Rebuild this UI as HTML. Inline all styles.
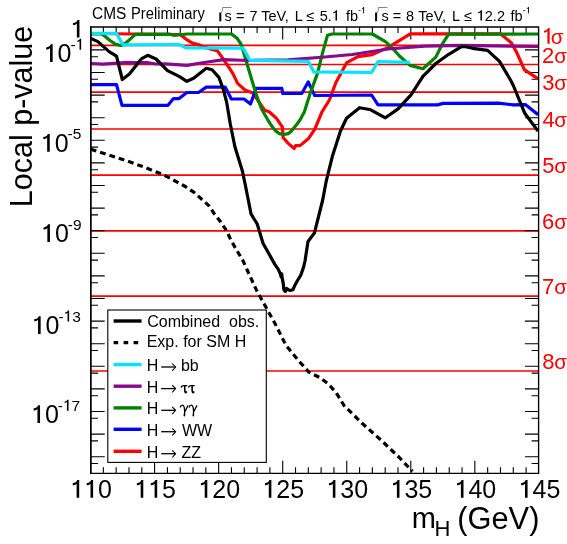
<!DOCTYPE html>
<html><head><meta charset="utf-8"><style>
html,body{margin:0;padding:0;background:#fff;width:567px;height:544px;overflow:hidden}
svg{display:block;font-family:"Liberation Sans",sans-serif;will-change:transform}
</style></head><body>
<svg width="567" height="544" viewBox="0 0 567 544">
<defs><clipPath id="pc"><rect x="91.0" y="27.0" width="447.6" height="446.3"/></clipPath></defs>
<rect width="567" height="544" fill="#fff"/>

<line x1="91.0" y1="45.37" x2="538.6" y2="45.37" stroke="#ff0000" stroke-width="1.6"/>
<line x1="91.0" y1="64.43" x2="538.6" y2="64.43" stroke="#ff0000" stroke-width="1.6"/>
<line x1="91.0" y1="92.16" x2="538.6" y2="92.16" stroke="#ff0000" stroke-width="1.6"/>
<line x1="91.0" y1="128.98" x2="538.6" y2="128.98" stroke="#ff0000" stroke-width="1.6"/>
<line x1="91.0" y1="175.16" x2="538.6" y2="175.16" stroke="#ff0000" stroke-width="1.6"/>
<line x1="91.0" y1="230.83" x2="538.6" y2="230.83" stroke="#ff0000" stroke-width="1.6"/>
<line x1="91.0" y1="296.08" x2="538.6" y2="296.08" stroke="#ff0000" stroke-width="1.6"/>
<line x1="91.0" y1="370.96" x2="538.6" y2="370.96" stroke="#ff0000" stroke-width="1.6"/>
<path d="M91.0,34.10h7 M538.6,34.10h-7 M91.0,49.90h13.7 M538.6,49.90h-13.7 M91.0,56.70h7 M538.6,56.70h-7 M91.0,72.50h13.7 M538.6,72.50h-13.7 M91.0,79.30h7 M538.6,79.30h-7 M91.0,95.10h13.7 M538.6,95.10h-13.7 M91.0,101.90h7 M538.6,101.90h-7 M91.0,117.70h13.7 M538.6,117.70h-13.7 M91.0,124.50h7 M538.6,124.50h-7 M91.0,140.30h13.7 M538.6,140.30h-13.7 M91.0,147.10h7 M538.6,147.10h-7 M91.0,162.90h13.7 M538.6,162.90h-13.7 M91.0,169.70h7 M538.6,169.70h-7 M91.0,185.50h13.7 M538.6,185.50h-13.7 M91.0,192.30h7 M538.6,192.30h-7 M91.0,208.10h13.7 M538.6,208.10h-13.7 M91.0,214.90h7 M538.6,214.90h-7 M91.0,230.70h13.7 M538.6,230.70h-13.7 M91.0,237.50h7 M538.6,237.50h-7 M91.0,253.30h13.7 M538.6,253.30h-13.7 M91.0,260.10h7 M538.6,260.10h-7 M91.0,275.90h13.7 M538.6,275.90h-13.7 M91.0,282.70h7 M538.6,282.70h-7 M91.0,298.50h13.7 M538.6,298.50h-13.7 M91.0,305.30h7 M538.6,305.30h-7 M91.0,321.10h13.7 M538.6,321.10h-13.7 M91.0,327.90h7 M538.6,327.90h-7 M91.0,343.70h13.7 M538.6,343.70h-13.7 M91.0,350.50h7 M538.6,350.50h-7 M91.0,366.30h13.7 M538.6,366.30h-13.7 M91.0,373.10h7 M538.6,373.10h-7 M91.0,388.90h13.7 M538.6,388.90h-13.7 M91.0,395.70h7 M538.6,395.70h-7 M91.0,411.50h13.7 M538.6,411.50h-13.7 M91.0,418.30h7 M538.6,418.30h-7 M91.0,434.10h13.7 M538.6,434.10h-13.7 M91.0,440.90h7 M538.6,440.90h-7 M91.0,456.70h13.7 M538.6,456.70h-13.7 M91.0,463.50h7 M538.6,463.50h-7 M103.36,473.3v-6 M103.36,27.0v6 M116.17,473.3v-6 M116.17,27.0v6 M128.98,473.3v-6 M128.98,27.0v6 M141.79,473.3v-6 M141.79,27.0v6 M154.60,473.3v-12.5 M154.60,27.0v12.5 M167.41,473.3v-6 M167.41,27.0v6 M180.22,473.3v-6 M180.22,27.0v6 M193.03,473.3v-6 M193.03,27.0v6 M205.84,473.3v-6 M205.84,27.0v6 M218.65,473.3v-12.5 M218.65,27.0v12.5 M231.46,473.3v-6 M231.46,27.0v6 M244.27,473.3v-6 M244.27,27.0v6 M257.08,473.3v-6 M257.08,27.0v6 M269.89,473.3v-6 M269.89,27.0v6 M282.70,473.3v-12.5 M282.70,27.0v12.5 M295.51,473.3v-6 M295.51,27.0v6 M308.32,473.3v-6 M308.32,27.0v6 M321.13,473.3v-6 M321.13,27.0v6 M333.94,473.3v-6 M333.94,27.0v6 M346.75,473.3v-12.5 M346.75,27.0v12.5 M359.56,473.3v-6 M359.56,27.0v6 M372.37,473.3v-6 M372.37,27.0v6 M385.18,473.3v-6 M385.18,27.0v6 M397.99,473.3v-6 M397.99,27.0v6 M410.80,473.3v-12.5 M410.80,27.0v12.5 M423.61,473.3v-6 M423.61,27.0v6 M436.42,473.3v-6 M436.42,27.0v6 M449.23,473.3v-6 M449.23,27.0v6 M462.04,473.3v-6 M462.04,27.0v6 M474.85,473.3v-12.5 M474.85,27.0v12.5 M487.66,473.3v-6 M487.66,27.0v6 M500.47,473.3v-6 M500.47,27.0v6 M513.28,473.3v-6 M513.28,27.0v6 M526.09,473.3v-6 M526.09,27.0v6" stroke="#000" stroke-width="1.1" fill="none"/>
<g clip-path="url(#pc)" fill="none" stroke-linejoin="round" stroke-width="3.2">
<polyline points="90.8,33.5 180.0,34.5 186.6,39.6 193.0,43.3 199.3,44.9 211.0,49.2 217.3,50.8 221.6,56.6 225.7,62.7 232.7,73.2 237.6,83.4 245.0,90.0 252.8,92.9 259.7,103.0 264.7,110.3 269.1,111.8 276.5,118.4 282.4,127.2 283.1,137.5 288.2,143.4 294.1,148.5 295.6,145.6 300.0,145.6 308.8,138.2 314.7,129.4 322.0,111.8 329.4,100.0 335.8,82.8 346.8,62.6 357.9,56.6 372.3,54.6 388.2,47.4 410.3,33.8 500.4,33.8 511.5,43.0 517.0,53.1 524.3,69.6 538.1,78.8" stroke="#ff0000"/>
<polyline points="90.8,84.7 116.5,84.7 122.0,105.3 168.0,105.3 173.5,98.6 179.1,98.6 186.9,92.5 198.5,92.5 206.3,87.1 225.2,87.1 231.3,99.0 244.0,99.0 250.5,104.0 254.2,93.9 256.0,88.3 281.8,88.3 282.7,93.5 301.8,93.5 308.2,81.9 314.7,95.5 371.6,95.0 378.0,104.9 437.6,104.9 443.1,103.4 498.6,103.1 513.3,104.9 525.3,104.6 538.1,114.7" stroke="#0000ff"/>
<polyline points="90.8,33.9 101.5,34.0 103.4,35.0 110.0,40.5 115.6,44.4 121.1,45.5 125.5,43.3 129.9,39.4 135.4,34.4 169.0,34.1 174.0,35.3 187.3,34.0 231.5,34.0 237.3,38.6 241.2,44.4 247.0,63.8 252.8,83.2 257.7,98.7 261.6,109.0 264.7,114.5 267.5,119.3 270.0,123.3 272.8,127.5 275.5,130.8 279.4,133.6 283.8,134.5 288.2,133.6 291.0,131.5 293.2,128.8 296.5,124.8 300.0,120.0 304.4,111.8 310.0,93.9 317.4,73.6 322.9,51.6 327.5,35.2 332.1,34.0 372.3,34.0 385.4,41.6 391.0,46.6 400.0,56.5 410.0,65.4 423.0,68.7 435.8,57.1 442.2,44.2 448.7,34.2 538.0,34.0" stroke="#008200"/>
<polyline points="90.8,63.5 103.0,64.2 124.8,62.6 146.8,62.6 156.0,64.0 165.5,63.8 186.9,65.3 204.3,62.5 223.7,59.7 248.7,60.5 288.0,59.8 324.8,57.0 352.3,54.5 388.0,49.0 424.8,46.2 461.5,45.4 538.0,46.5" stroke="#880a8c"/>
<polyline points="90.8,33.4 116.5,33.4 122.9,44.8 179.1,44.5 185.9,47.9 243.1,48.1 249.9,60.3 308.2,61.3 313.7,71.8 371.6,72.5 378.0,61.5 410.0,62.3" stroke="#00e5ff"/>
<polyline points="90.8,38.4 97.9,41.6 109.1,51.6 116.5,56.2 122.3,79.5 129.4,74.0 141.3,58.9 147.7,55.3 156.0,59.0 167.5,70.6 179.1,76.4 186.9,81.3 193.6,78.3 206.3,68.3 212.1,69.8 218.9,77.4 223.2,89.0 226.6,102.0 230.3,124.0 234.9,146.8 242.3,170.7 245.0,183.5 248.3,200.0 251.0,213.8 257.2,224.0 263.0,243.2 275.0,264.6 278.3,269.3 280.3,273.9 281.1,276.8 281.7,273.9 282.3,278.6 283.3,283.9 283.9,289.8 285.3,291.5 286.6,288.5 288.2,289.8 290.2,290.5 292.9,289.8 294.9,285.2 297.5,280.5 300.8,275.2 303.5,267.3 305.0,261.0 308.0,241.4 314.4,233.1 322.7,200.0 326.3,180.8 332.3,156.6 340.4,131.3 346.5,118.2 359.6,107.7 370.7,109.8 385.4,117.8 398.1,108.9 411.0,94.8 422.9,76.4 435.8,63.5 448.7,54.3 461.5,46.6 465.5,46.7 472.6,48.3 487.6,50.3 499.5,61.4 510.5,80.0 513.3,85.5 524.8,113.3 538.0,131.0" stroke="#000"/>
<polyline points="90.8,149.2 106.4,154.3 124.8,160.2 143.1,166.7 161.5,174.0 167.6,176.9 176.2,181.6 185.3,186.5 194.1,192.4 201.5,199.0 208.8,205.6 214.7,214.4 220.6,221.8 226.5,230.6 230.0,238.0 234.0,245.6 243.1,260.9 247.4,270.5 256.5,290.2 265.7,306.8 274.9,323.3 286.0,345.4 295.1,356.4 300.0,362.2 308.8,372.1 319.9,377.6 328.7,384.3 336.4,393.1 344.1,405.6 361.8,423.0 381.6,440.6 399.3,457.5 412.5,471.4" stroke="#000" stroke-dasharray="5.8 4"/>
</g>
<path d="M91.0,26.5V474.0 M90.0,473.3H539.2 M538.6,474.0V26.3 M539.2,27.0H90.0" fill="none" stroke="#000" stroke-width="1.35"/><path d="M90.6,26.3V474.0" stroke="#000" stroke-width="1.1"/>
<rect x="107.8" y="310" width="158.5" height="152.39999999999998" fill="#fff" stroke="#000" stroke-width="1.1"/>
<line x1="113.6" y1="321.0" x2="141.6" y2="321.0" stroke="#000" stroke-width="3.4"/>
<text x="147.19" y="327.30" font-size="16" xml:space="preserve">Combined  obs.</text>
<line x1="113.6" y1="342.6" x2="141.6" y2="342.6" stroke="#000" stroke-width="3.4" stroke-dasharray="4.6 5.4"/>
<text x="146.69" y="347.00" font-size="16" xml:space="preserve">Exp. for SM H</text>
<line x1="113.6" y1="364.6" x2="141.6" y2="364.6" stroke="#00e5ff" stroke-width="3.4"/>
<text x="146.69" y="370.90" font-size="16" xml:space="preserve">H</text>
<path d="M161.2,367.0H175.4" stroke="#000" stroke-width="1.3" fill="none"/><path d="M172.2,363.6L175.6,367.0L172.2,370.8" stroke="#000" stroke-width="1.05" fill="none"/>
<text x="180.97" y="370.90" font-size="16" xml:space="preserve">bb</text>
<line x1="113.6" y1="386.2" x2="141.6" y2="386.2" stroke="#880a8c" stroke-width="3.4"/>
<text x="146.69" y="392.50" font-size="16" xml:space="preserve">H</text>
<path d="M161.2,388.6H175.4" stroke="#000" stroke-width="1.3" fill="none"/><path d="M172.2,385.2L175.6,388.6L172.2,392.4" stroke="#000" stroke-width="1.05" fill="none"/>
<path d="M181.0,387.50 Q181.6,385.70 183.3,385.60 L187.3,385.60" stroke="#000" stroke-width="1.45" fill="none"/><path d="M184.8,385.70 C184.6,389.90 184.6,392.90 186.0,392.60 L186.8,391.60" stroke="#000" stroke-width="1.6" fill="none"/>
<path d="M188.4,387.50 Q189.0,385.70 190.70000000000002,385.60 L194.70000000000002,385.60" stroke="#000" stroke-width="1.45" fill="none"/><path d="M192.20000000000002,385.70 C192.0,389.90 192.0,392.90 193.4,392.60 L194.20000000000002,391.60" stroke="#000" stroke-width="1.6" fill="none"/>
<line x1="113.6" y1="407.9" x2="141.6" y2="407.9" stroke="#008200" stroke-width="3.4"/>
<text x="146.69" y="414.20" font-size="16" xml:space="preserve">H</text>
<path d="M161.2,410.3H175.4" stroke="#000" stroke-width="1.3" fill="none"/><path d="M172.2,406.9L175.6,410.3L172.2,414.1" stroke="#000" stroke-width="1.05" fill="none"/>
<path d="M180.2,407.50 C180.89999999999998,404.40 183.7,404.40 184.29999999999998,407.70 L184.7,412.00 M188.1,405.40 L184.7,412.00" stroke="#000" stroke-width="1.25" fill="none"/><path d="M184.1,411.80 L185.29999999999998,411.80 L185.2,416.00 Q184.29999999999998,416.80 183.5,416.00 Z" fill="#000"/>
<path d="M189.1,407.50 C189.79999999999998,404.40 192.6,404.40 193.2,407.70 L193.6,412.00 M197.0,405.40 L193.6,412.00" stroke="#000" stroke-width="1.25" fill="none"/><path d="M193.0,411.80 L194.2,411.80 L194.1,416.00 Q193.2,416.80 192.4,416.00 Z" fill="#000"/>
<line x1="113.6" y1="429.3" x2="141.6" y2="429.3" stroke="#0000ff" stroke-width="3.4"/>
<text x="146.69" y="435.60" font-size="16" xml:space="preserve">H</text>
<path d="M161.2,431.7H175.4" stroke="#000" stroke-width="1.3" fill="none"/><path d="M172.2,428.3L175.6,431.7L172.2,435.5" stroke="#000" stroke-width="1.05" fill="none"/>
<text x="181.93" y="435.60" font-size="16" xml:space="preserve">WW</text>
<line x1="113.6" y1="451.3" x2="141.6" y2="451.3" stroke="#ff0000" stroke-width="3.4"/>
<text x="146.69" y="457.60" font-size="16" xml:space="preserve">H</text>
<path d="M161.2,453.7H175.4" stroke="#000" stroke-width="1.3" fill="none"/><path d="M172.2,450.3L175.6,453.7L172.2,457.5" stroke="#000" stroke-width="1.05" fill="none"/>
<text x="181.49" y="457.60" font-size="16" xml:space="preserve">ZZ</text>
<text x="92.02" y="19.20" font-size="15.8" textLength="34.29" lengthAdjust="spacingAndGlyphs" xml:space="preserve">CMS</text>
<text x="130.99" y="19.20" font-size="15.8" textLength="73.84" lengthAdjust="spacingAndGlyphs" xml:space="preserve">Preliminary</text>
<path d="M220.3,12.5 V21.3" stroke="#000" stroke-width="2" fill="none"/><path d="M220.7,13.2 L222.6,10.5 L222.5,7.5 H231.6" stroke="#777" stroke-width="0.9" fill="none"/>
<text x="224.60" y="20.50" font-size="14.5" xml:space="preserve">s</text>
<text x="236.09" y="20.50" font-size="14.5" xml:space="preserve">=</text>
<text x="249.46" y="20.50" font-size="14.5" xml:space="preserve">7</text>
<text x="261.17" y="20.50" font-size="14.5" xml:space="preserve">TeV,</text>
<text x="294.81" y="20.50" font-size="14.5" xml:space="preserve">L</text>
<text x="306.55" y="20.50" font-size="14.5" xml:space="preserve">≤</text>
<text x="319.72" y="20.50" font-size="14.5" fill="#000">5</text><text x="327.78" y="20.50" font-size="14.5" fill="#000">.</text><path d="M337.02,20.50 L337.02,10.22 L335.92,10.22 C335.55,11.29 334.57,11.95 333.28,12.02 L333.28,13.18 C334.13,13.18 334.93,12.89 335.51,12.31 L335.51,20.50 Z" fill="#000"/>
<text x="345.99" y="20.50" font-size="14.5" xml:space="preserve">fb</text>
<text x="358.01" y="13.30" font-size="8.8" fill="#000">-</text><path d="M364.10,13.30 L364.10,7.06 L363.43,7.06 C363.21,7.71 362.61,8.11 361.83,8.15 L361.83,8.86 C362.35,8.86 362.83,8.68 363.18,8.33 L363.18,13.30 Z" fill="#000"/>
<path d="M376.1,12.5 V21.3" stroke="#000" stroke-width="2" fill="none"/><path d="M376.5,13.2 L378.40000000000003,10.5 L378.3,7.5 H387.40000000000003" stroke="#777" stroke-width="0.9" fill="none"/>
<text x="381.60" y="20.50" font-size="14.5" xml:space="preserve">s</text>
<text x="392.79" y="20.50" font-size="14.5" xml:space="preserve">=</text>
<text x="406.07" y="20.50" font-size="14.5" xml:space="preserve">8</text>
<text x="418.37" y="20.50" font-size="14.5" xml:space="preserve">TeV,</text>
<text x="452.01" y="20.50" font-size="14.5" xml:space="preserve">L</text>
<text x="464.25" y="20.50" font-size="14.5" xml:space="preserve">≤</text>
<path d="M481.94,20.50 L481.94,10.22 L480.84,10.22 C480.48,11.29 479.49,11.95 478.20,12.02 L478.20,13.18 C479.06,13.18 479.85,12.89 480.43,12.31 L480.43,20.50 Z" fill="#000"/><text x="484.80" y="20.50" font-size="14.5" fill="#000">2</text><text x="492.86" y="20.50" font-size="14.5" fill="#000">.</text><text x="496.89" y="20.50" font-size="14.5" fill="#000">2</text>
<text x="510.49" y="20.50" font-size="14.5" xml:space="preserve">fb</text>
<text x="522.81" y="13.30" font-size="8.8" fill="#000">-</text><path d="M528.90,13.30 L528.90,7.06 L528.23,7.06 C528.01,7.71 527.41,8.11 526.63,8.15 L526.63,8.86 C527.15,8.86 527.63,8.68 527.98,8.33 L527.98,13.30 Z" fill="#000"/>
<path d="M79.20,497.80 L79.20,480.07 L77.30,480.07 C76.67,481.93 74.97,483.05 72.75,483.18 L72.75,485.18 C74.22,485.18 75.60,484.68 76.60,483.68 L76.60,497.80 Z" fill="#000"/><path d="M93.10,497.80 L93.10,480.07 L91.20,480.07 C90.57,481.93 88.87,483.05 86.65,483.18 L86.65,485.18 C88.12,485.18 89.50,484.68 90.50,483.68 L90.50,497.80 Z" fill="#000"/><text x="98.03" y="497.80" font-size="25" fill="#000">0</text>
<path d="M143.28,497.80 L143.28,480.07 L141.38,480.07 C140.76,481.93 139.06,483.05 136.83,483.18 L136.83,485.18 C138.31,485.18 139.68,484.68 140.68,483.68 L140.68,497.80 Z" fill="#000"/><path d="M157.19,497.80 L157.19,480.07 L155.29,480.07 C154.66,481.93 152.96,483.05 150.74,483.18 L150.74,485.18 C152.21,485.18 153.59,484.68 154.59,483.68 L154.59,497.80 Z" fill="#000"/><text x="162.11" y="497.80" font-size="25" fill="#000">5</text>
<path d="M207.30,497.80 L207.30,480.07 L205.40,480.07 C204.77,481.93 203.07,483.05 200.85,483.18 L200.85,485.18 C202.32,485.18 203.70,484.68 204.70,483.68 L204.70,497.80 Z" fill="#000"/><text x="212.22" y="497.80" font-size="25" fill="#000">2</text><text x="226.13" y="497.80" font-size="25" fill="#000">0</text>
<path d="M271.38,497.80 L271.38,480.07 L269.48,480.07 C268.86,481.93 267.16,483.05 264.93,483.18 L264.93,485.18 C266.41,485.18 267.78,484.68 268.78,483.68 L268.78,497.80 Z" fill="#000"/><text x="276.31" y="497.80" font-size="25" fill="#000">2</text><text x="290.21" y="497.80" font-size="25" fill="#000">5</text>
<path d="M335.40,497.80 L335.40,480.07 L333.50,480.07 C332.87,481.93 331.17,483.05 328.95,483.18 L328.95,485.18 C330.42,485.18 331.80,484.68 332.80,483.68 L332.80,497.80 Z" fill="#000"/><text x="340.32" y="497.80" font-size="25" fill="#000">3</text><text x="354.23" y="497.80" font-size="25" fill="#000">0</text>
<path d="M399.48,497.80 L399.48,480.07 L397.58,480.07 C396.96,481.93 395.26,483.05 393.03,483.18 L393.03,485.18 C394.51,485.18 395.88,484.68 396.88,483.68 L396.88,497.80 Z" fill="#000"/><text x="404.41" y="497.80" font-size="25" fill="#000">3</text><text x="418.31" y="497.80" font-size="25" fill="#000">5</text>
<path d="M463.50,497.80 L463.50,480.07 L461.60,480.07 C460.97,481.93 459.27,483.05 457.05,483.18 L457.05,485.18 C458.52,485.18 459.90,484.68 460.90,483.68 L460.90,497.80 Z" fill="#000"/><text x="468.42" y="497.80" font-size="25" fill="#000">4</text><text x="482.33" y="497.80" font-size="25" fill="#000">0</text>
<path d="M527.58,497.80 L527.58,480.07 L525.68,480.07 C525.06,481.93 523.36,483.05 521.13,483.18 L521.13,485.18 C522.61,485.18 523.98,484.68 524.98,483.68 L524.98,497.80 Z" fill="#000"/><text x="532.51" y="497.80" font-size="25" fill="#000">4</text><text x="546.41" y="497.80" font-size="25" fill="#000">5</text>
<path d="M79.45,37.60 L79.45,19.88 L77.55,19.88 C76.92,21.73 75.22,22.85 73.00,22.98 L73.00,24.98 C74.47,24.98 75.85,24.48 76.85,23.48 L76.85,37.60 Z" fill="#000"/>
<path d="M52.65,62.00 L52.65,44.28 L50.75,44.28 C50.13,46.12 48.43,47.25 46.20,47.38 L46.20,49.38 C47.68,49.38 49.05,48.88 50.05,47.88 L50.05,62.00 Z" fill="#000"/><text x="57.58" y="62.00" font-size="25" fill="#000">0</text>
<text x="70.42" y="49.70" font-size="15.5" fill="#000">-</text><path d="M81.14,49.70 L81.14,38.71 L79.97,38.71 C79.58,39.86 78.52,40.56 77.14,40.63 L77.14,41.87 C78.06,41.87 78.91,41.56 79.53,40.94 L79.53,49.70 Z" fill="#000"/>
<path d="M49.75,151.70 L49.75,133.97 L47.85,133.97 C47.23,135.82 45.52,136.95 43.30,137.07 L43.30,139.07 C44.77,139.07 46.15,138.57 47.15,137.57 L47.15,151.70 Z" fill="#000"/><text x="54.68" y="151.70" font-size="25" fill="#000">0</text>
<text x="67.52" y="139.40" font-size="15.5" fill="#000">-</text><text x="72.68" y="139.40" font-size="15.5" fill="#000">5</text>
<path d="M49.95,242.00 L49.95,224.28 L48.05,224.28 C47.43,226.12 45.73,227.25 43.50,227.38 L43.50,229.38 C44.98,229.38 46.35,228.88 47.35,227.88 L47.35,242.00 Z" fill="#000"/><text x="54.88" y="242.00" font-size="25" fill="#000">0</text>
<text x="67.72" y="229.70" font-size="15.5" fill="#000">-</text><text x="72.88" y="229.70" font-size="15.5" fill="#000">9</text>
<path d="M40.65,333.90 L40.65,316.17 L38.75,316.17 C38.13,318.02 36.43,319.15 34.20,319.27 L34.20,321.27 C35.68,321.27 37.05,320.77 38.05,319.77 L38.05,333.90 Z" fill="#000"/><text x="45.58" y="333.90" font-size="25" fill="#000">0</text>
<text x="58.42" y="321.60" font-size="15.5" fill="#000">-</text><path d="M69.14,321.60 L69.14,310.61 L67.97,310.61 C67.58,311.76 66.52,312.45 65.14,312.53 L65.14,313.77 C66.06,313.77 66.91,313.46 67.53,312.84 L67.53,321.60 Z" fill="#000"/><text x="72.20" y="321.60" font-size="15.5" fill="#000">3</text>
<path d="M40.05,423.00 L40.05,405.27 L38.15,405.27 C37.53,407.12 35.83,408.25 33.60,408.38 L33.60,410.38 C35.08,410.38 36.45,409.88 37.45,408.88 L37.45,423.00 Z" fill="#000"/><text x="44.98" y="423.00" font-size="25" fill="#000">0</text>
<text x="57.82" y="410.70" font-size="15.5" fill="#000">-</text><path d="M68.54,410.70 L68.54,399.71 L67.37,399.71 C66.98,400.86 65.92,401.56 64.54,401.63 L64.54,402.87 C65.46,402.87 66.31,402.56 66.93,401.94 L66.93,410.70 Z" fill="#000"/><text x="71.60" y="410.70" font-size="15.5" fill="#000">7</text>
<path d="M549.68,43.67 L549.68,28.07 L548.00,28.07 C547.45,29.70 545.96,30.69 544.00,30.80 L544.00,32.56 C545.30,32.56 546.51,32.12 547.39,31.24 L547.39,43.67 Z" fill="#ff0000"/>
<text x="550.64" y="43.67" font-size="20.5" fill="#ff0000" xml:space="preserve">σ</text>
<text x="541.99" y="62.73" font-size="22" fill="#ff0000">2</text>
<text x="554.14" y="62.73" font-size="20.5" fill="#ff0000" xml:space="preserve">σ</text>
<text x="542.26" y="90.46" font-size="22" fill="#ff0000">3</text>
<text x="554.14" y="90.46" font-size="20.5" fill="#ff0000" xml:space="preserve">σ</text>
<text x="542.60" y="127.28" font-size="22" fill="#ff0000">4</text>
<text x="554.14" y="127.28" font-size="20.5" fill="#ff0000" xml:space="preserve">σ</text>
<text x="542.22" y="173.46" font-size="22" fill="#ff0000">5</text>
<text x="554.14" y="173.46" font-size="20.5" fill="#ff0000" xml:space="preserve">σ</text>
<text x="541.98" y="229.13" font-size="22" fill="#ff0000">6</text>
<text x="554.14" y="229.13" font-size="20.5" fill="#ff0000" xml:space="preserve">σ</text>
<text x="541.97" y="294.38" font-size="22" fill="#ff0000">7</text>
<text x="554.14" y="294.38" font-size="20.5" fill="#ff0000" xml:space="preserve">σ</text>
<text x="542.14" y="369.26" font-size="22" fill="#ff0000">8</text>
<text x="554.14" y="369.26" font-size="20.5" fill="#ff0000" xml:space="preserve">σ</text>
<text transform="translate(32,207.20) rotate(-90)" font-size="30.5">Local p-value</text>
<text x="411.67" y="528.30" font-size="29" xml:space="preserve">m</text>
<text x="434.60" y="535.70" font-size="22" xml:space="preserve">H</text>
<text x="457.29" y="528.50" font-size="30.8" xml:space="preserve">(GeV)</text>
</svg></body></html>
